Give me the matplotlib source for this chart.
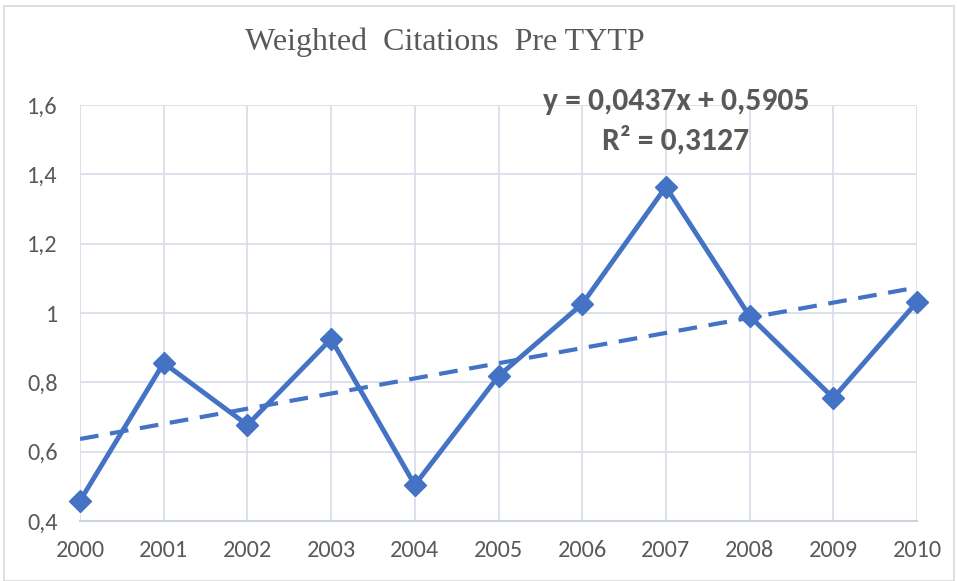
import numpy as np
import matplotlib.pyplot as plt
from matplotlib.ticker import FuncFormatter, MultipleLocator
from matplotlib.patches import Rectangle

# data
years = [2000, 2001, 2002, 2003, 2004, 2005, 2006, 2007, 2008, 2009, 2010]
values = [0.458, 0.856, 0.677, 0.925, 0.504, 0.818, 1.026, 1.364, 0.991, 0.755, 1.032]
eq_text = "y = 0,0437x + 0,5905\nR² = 0,3127"
title = "Weighted  Citations  Pre TYTP"

blue = "#4472C4"
grey_txt = "#595959"
grid_col = "#D9DEEA"
sans = ["Carlito", "Lato", "DejaVu Sans"]

fig = plt.figure(figsize=(9.57, 5.81), dpi=100)
ax = fig.add_axes([80 / 957, 1 - 521 / 581, (917 - 80) / 957, (521 - 105) / 581])

# linear trend (excel style, x = 1..n)
xi = np.arange(1, len(years) + 1)
slope, icpt = np.polyfit(xi, values, 1)
trend = slope * xi + icpt

ax.plot(years, trend, color=blue, lw=3.0, dashes=(4.5, 2.8), zorder=3)
ax.plot(years, values, color=blue, lw=3.5, marker="D", markersize=11.5,
        clip_on=False, zorder=4)

ax.set_xlim(2000, 2010)
ax.set_ylim(0.4, 1.6)
ax.set_xticks(years)
ax.yaxis.set_major_locator(MultipleLocator(0.2))
ax.yaxis.set_major_formatter(FuncFormatter(lambda v, p: f"{v:g}".replace(".", ",")))
ax.grid(True, color=grid_col, lw=1.3)
ax.set_axisbelow(True)
for s in ["left", "right", "top"]:
    ax.spines[s].set_visible(False)
ax.spines["bottom"].set_color("#CDD3DE")
ax.spines["bottom"].set_linewidth(1.5)
ax.tick_params(length=0, labelsize=17.5, labelcolor=grey_txt)
ax.tick_params(axis="x", pad=13.5)
ax.tick_params(axis="y", pad=16)
for lab in ax.get_xticklabels() + ax.get_yticklabels():
    lab.set_family(sans)

fig.text(445 / 957, 1 - 42 / 581, title, family="Liberation Serif", fontsize=23,
         color=grey_txt, ha="center", va="center")
fig.text(676 / 957, 1 - 121 / 581, eq_text, family=sans, fontsize=22.8,
         fontweight="bold", color=grey_txt, ha="center", va="center",
         linespacing=1.4)

fig.patches.append(Rectangle((4 / 957, 0), 950 / 957, 1 - 6 / 581,
                             transform=fig.transFigure, fill=False,
                             edgecolor="#D9D9D9", lw=1.2))

fig.savefig("out.png", dpi=100)
